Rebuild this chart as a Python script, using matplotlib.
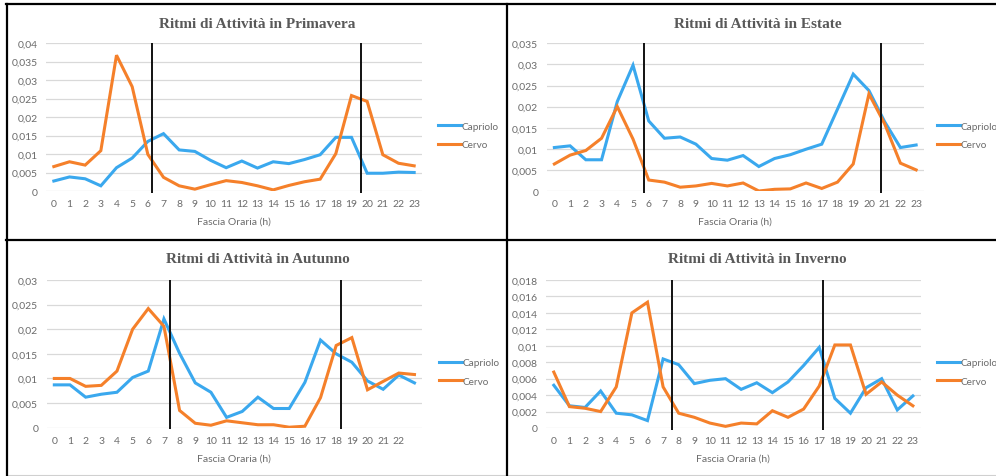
import matplotlib
matplotlib.use("Agg")
import matplotlib.pyplot as plt
from matplotlib.lines import Line2D
from matplotlib.ticker import MultipleLocator, FuncFormatter

# --- data -------------------------------------------------------------
hours = list(range(24))

primavera_capriolo = [0.0027, 0.0038, 0.0033, 0.0014, 0.0063, 0.0089, 0.0134, 0.0155,
                      0.0111, 0.0107, 0.0083, 0.0063, 0.0081, 0.0062, 0.0079, 0.0074,
                      0.0085, 0.0098, 0.0145, 0.0145, 0.0048, 0.0048, 0.0051, 0.0050]
primavera_cervo = [0.0066, 0.0079, 0.0070, 0.0109, 0.0367, 0.0282, 0.0099, 0.0037,
                   0.0014, 0.0005, 0.0017, 0.0028, 0.0023, 0.0014, 0.0003, 0.0015,
                   0.0025, 0.0032, 0.0101, 0.0258, 0.0242, 0.0098, 0.0075, 0.0068]

estate_capriolo = [0.0103, 0.0107, 0.0074, 0.0074, 0.0212, 0.0298, 0.0166, 0.0125,
                   0.0128, 0.0111, 0.0077, 0.0073, 0.0084, 0.0058, 0.0077, 0.0086,
                   0.0099, 0.0111, 0.0194, 0.0277, 0.0238, 0.0164, 0.0103, 0.0109]
estate_cervo = [0.0064, 0.0085, 0.0096, 0.0125, 0.0200, 0.0123, 0.0026, 0.0021,
                0.0009, 0.0012, 0.0018, 0.0012, 0.0019, 0.0000, 0.0004, 0.0005,
                0.0019, 0.0006, 0.0021, 0.0064, 0.0230, 0.0159, 0.0066, 0.0050]

autunno_capriolo = [0.0087, 0.0087, 0.0062, 0.0068, 0.0072, 0.0102, 0.0115, 0.0221,
                    0.0151, 0.0091, 0.0072, 0.0021, 0.0033, 0.0062, 0.0039, 0.0039,
                    0.0092, 0.0178, 0.0150, 0.0133, 0.0095, 0.0078, 0.0107, 0.0091]
autunno_cervo = [0.0100, 0.0100, 0.0084, 0.0086, 0.0115, 0.0200, 0.0242, 0.0206,
                 0.0035, 0.0009, 0.0005, 0.0014, 0.0010, 0.0006, 0.0006, 0.0001,
                 0.0003, 0.0061, 0.0167, 0.0183, 0.0077, 0.0094, 0.0111, 0.0108]

inverno_capriolo = [0.0052, 0.0027, 0.0025, 0.0045, 0.0018, 0.0016, 0.0009, 0.0084,
                    0.0077, 0.0054, 0.0058, 0.0060, 0.0047, 0.0055, 0.0043, 0.0056,
                    0.0076, 0.0098, 0.0036, 0.0018, 0.0049, 0.0060, 0.0022, 0.0039]
inverno_cervo = [0.0068, 0.0026, 0.0024, 0.0020, 0.0050, 0.0140, 0.0153, 0.0050,
                 0.0018, 0.0013, 0.0006, 0.0002, 0.0006, 0.0005, 0.0021, 0.0013,
                 0.0023, 0.0051, 0.0101, 0.0101, 0.0041, 0.0056, 0.0040, 0.0027]

# sunrise / sunset markers (hour position)
primavera_sun = [6.25, 19.6]
estate_sun = [5.72, 20.74]
autunno_sun = [7.37, 18.29]
inverno_sun = [7.6, 17.26]

labels_full = [str(h) for h in hours]
labels_autunno = [str(h) for h in hours[:-1]] + [""]

# --- style ------------------------------------------------------------
W, H = 996, 477
BLUE = "#3AA8EE"
ORANGE = "#F5802A"
GRID = "#D9D9D9"
TXT = "#6B6B6B"
TITLE_C = "#595959"
TICK_FONT = ["Lato", "DejaVu Sans"]

fig = plt.figure(figsize=(W / 100, H / 100), dpi=100)


def px_axes(x0, x1, ytop, ybot):
    return fig.add_axes([x0 / W, 1 - ybot / H, (x1 - x0) / W, (ybot - ytop) / H])


def fmt(v, pos):
    if abs(v) < 1e-12:
        return "0"
    return f"{v:g}".replace(".", ",")


panels = [
    ("Ritmi di Attività in Primavera", primavera_capriolo, primavera_cervo, primavera_sun,
     labels_full, 0.04, 0.005, (46, 422, 44, 192), (257, 24), (438, 136.5)),
    ("Ritmi di Attività in Estate", estate_capriolo, estate_cervo, estate_sun,
     labels_full, 0.035, 0.005, (546.5, 924, 44.3, 192), (758, 24), (937, 136.5)),
    ("Ritmi di Attività in Autunno", autunno_capriolo, autunno_cervo, autunno_sun,
     labels_autunno, 0.03, 0.005, (46.5, 422.3, 281, 428.7), (258, 260), (439, 373)),
    ("Ritmi di Attività in Inverno", inverno_capriolo, inverno_cervo, inverno_sun,
     labels_full, 0.018, 0.002, (546, 920.7, 281, 429), (757, 260), (937, 373)),
]

for title, cap, cer, sun, xlabels, ymax, ystep, box, tpos, lpos in panels:
    ax = px_axes(*box)
    ax.plot(hours, cap, color=BLUE, lw=2.2, label="Capriolo", solid_joinstyle="miter")
    ax.plot(hours, cer, color=ORANGE, lw=2.2, label="Cervo", solid_joinstyle="miter")
    ax.vlines(sun, -ymax * 0.012, ymax, color="#111111", lw=1.4, zorder=5, clip_on=False)
    ax.set_xlim(-0.5, 23.5)
    ax.set_ylim(0, ymax)
    ax.yaxis.set_major_locator(MultipleLocator(ystep))
    ax.yaxis.set_major_formatter(FuncFormatter(fmt))
    ax.set_xticks(hours)
    ax.set_xticklabels(xlabels)
    ax.grid(axis="y", color=GRID, lw=0.9)
    ax.set_axisbelow(True)
    for s in ax.spines.values():
        s.set_visible(False)
    ax.tick_params(length=0, labelsize=7.5, colors=TXT, pad=6)
    for t in ax.get_xticklabels() + ax.get_yticklabels():
        t.set_family(TICK_FONT)
    ax.set_xlabel("Fascia Oraria (h)", fontsize=7.5, color=TXT, family=TICK_FONT, labelpad=6)
    fig.text(tpos[0] / W, 1 - tpos[1] / H, title, ha="center", va="center",
             fontsize=11, fontweight="bold", color=TITLE_C, family="Liberation Serif")
    ax.legend(loc="center left", bbox_to_anchor=(lpos[0] / W, 1 - lpos[1] / H),
              bbox_transform=fig.transFigure, frameon=False,
              handlelength=2.3, handletextpad=0.08, labelspacing=0.95, borderpad=0,
              borderaxespad=0, prop={"family": TICK_FONT, "size": 7.2},
              labelcolor=TXT)

# --- table borders ----------------------------------------------------
def hline(y, x0, x1, c="black", lw=1.6):
    fig.add_artist(Line2D([x0 / W, x1 / W], [1 - y / H, 1 - y / H], color=c, lw=lw))


def vline(x, y0, y1, c="black", lw=1.6):
    fig.add_artist(Line2D([x / W, x / W], [1 - y0 / H, 1 - y1 / H], color=c, lw=lw))


hline(5, 6, W)
hline(241, 6, W)
hline(476, 8, W, c="#D0D0D0", lw=0.8)
vline(7, 5, 476)
vline(506.7, 5, 476)

fig.savefig("out.png", dpi=100)
